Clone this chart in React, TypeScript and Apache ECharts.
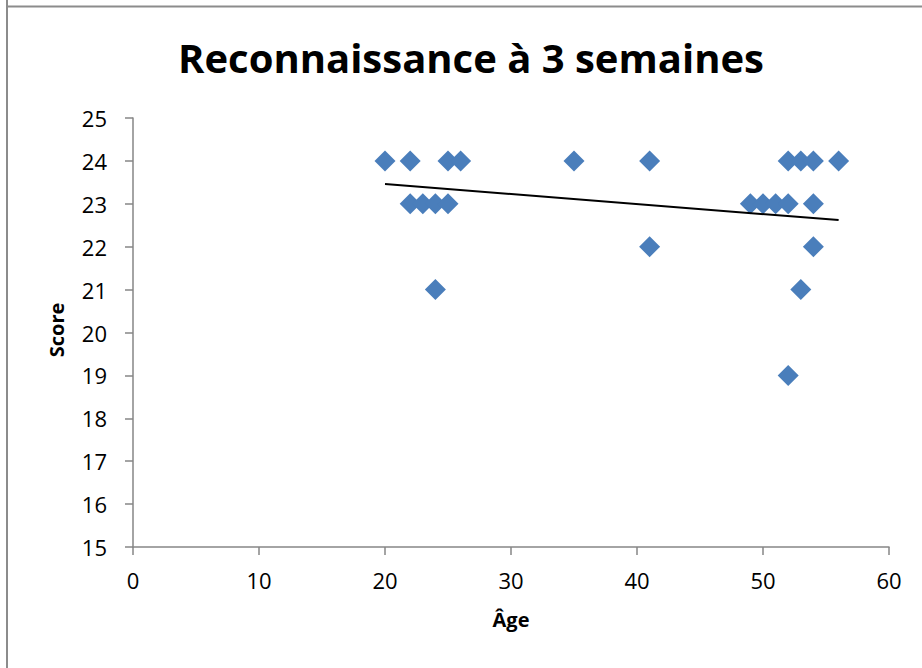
import React, { useEffect, useRef } from "react";
import * as echarts from "echarts";

const ages = [20, 22, 22, 23, 24, 25, 24, 25, 26, 35, 41, 41, 49, 50, 51, 52, 52, 53, 54, 54, 54, 53, 52, 56];
const scores = [24, 24, 23, 23, 23, 23, 21, 24, 24, 24, 24, 22, 23, 23, 23, 23, 24, 24, 24, 23, 22, 21, 19, 24];
const trendX = [20, 56];
const trendY = [23.46, 22.62];
const titleText = "Reconnaissance à 3 semaines";
const xName = "Âge";
const yName = "Score";

export default function App() {
  const ref = useRef<HTMLDivElement>(null);
  useEffect(() => {
    if (!ref.current) return;
    const chart = echarts.init(ref.current, null, { renderer: "svg" });
    const font = "'Open Sans', Lato, sans-serif";
    chart.setOption({
      animation: false,
      backgroundColor: "#ffffff",
      textStyle: { fontFamily: font },
      graphic: [
        { type: "line", shape: { x1: 7, y1: 0, x2: 7, y2: 668 }, style: { stroke: "#8c8c8c", lineWidth: 2 } },
        { type: "line", shape: { x1: 6, y1: 6.5, x2: 922, y2: 6.5 }, style: { stroke: "#8c8c8c", lineWidth: 2 } },
        {
          type: "text",
          x: 471,
          y: 57,
          style: { text: titleText, font: `bold 40px ${font}`, fill: "#000", align: "center", verticalAlign: "middle" },
        },
        {
          type: "text",
          x: 56,
          y: 330,
          rotation: Math.PI / 2,
          style: { text: yName, font: `bold 20px ${font}`, fill: "#000", align: "center", verticalAlign: "middle" },
        },
      ],
      grid: { left: 133, right: 33, top: 118, bottom: 121, containLabel: false },
      xAxis: {
        type: "value",
        min: 0,
        max: 60,
        interval: 10,
        name: xName,
        nameLocation: "middle",
        nameGap: 62,
        nameTextStyle: { fontFamily: font, fontWeight: "bold", fontSize: 20, color: "#000" },
        axisLine: { show: true, onZero: false, lineStyle: { color: "#868686", width: 1.5 } },
        axisTick: { show: true, inside: false, length: 8, lineStyle: { color: "#868686", width: 1.5 } },
        axisLabel: { fontSize: 22, color: "#000", margin: 22, fontFamily: font },
        splitLine: { show: false },
      },
      yAxis: {
        type: "value",
        min: 15,
        max: 25,
        interval: 1,
        axisLine: { show: true, onZero: false, lineStyle: { color: "#868686", width: 1.5 } },
        axisTick: { show: true, inside: false, length: 8, lineStyle: { color: "#868686", width: 1.5 } },
        axisLabel: { fontSize: 22, color: "#000", margin: 26, fontFamily: font },
        splitLine: { show: false },
      },
      series: [
        {
          type: "line",
          data: trendX.map((x, i) => [x, trendY[i]]),
          symbol: "none",
          lineStyle: { color: "#000", width: 2 },
          z: 3,
        },
        {
          type: "scatter",
          data: ages.map((a, i) => [a, scores[i]]),
          symbol: "diamond",
          symbolSize: [21, 21],
          itemStyle: { color: "#4A7EBB", opacity: 1 },
          z: 2,
        },
      ],
    });
    return () => chart.dispose();
  }, []);
  return <div ref={ref} style={{ position: "absolute", left: 0, top: 0, width: 922, height: 668 }} />;
}
